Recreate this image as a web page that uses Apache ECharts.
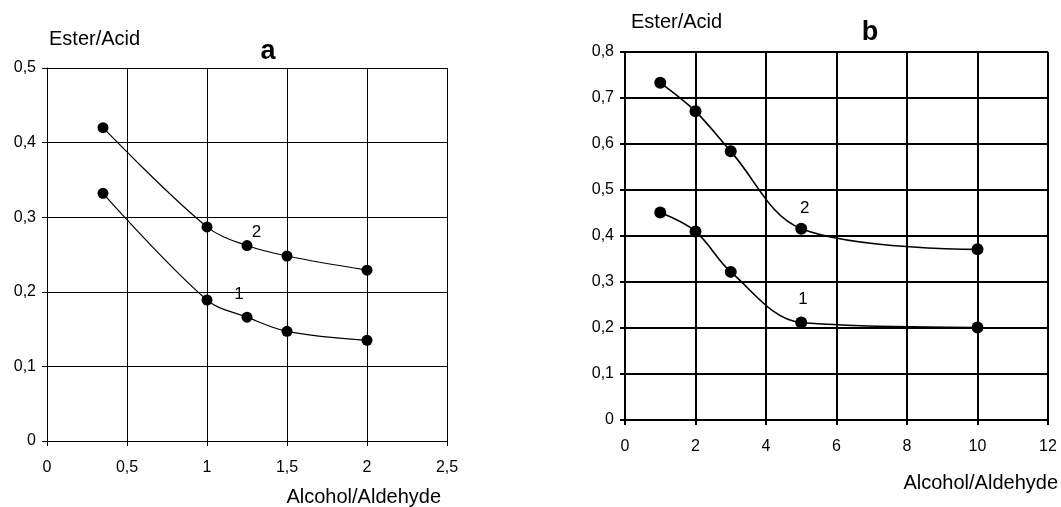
<!DOCTYPE html>
<html>
<head>
<meta charset="utf-8">
<script src="https://cdn.jsdelivr.net/npm/echarts@6/dist/echarts.min.js"></script>
<style>
html,body{margin:0;padding:0;background:#fff;}
#c{width:1061px;height:507px;}
</style>
</head>
<body>
<div id="c"></div>
<script>
// Panel a
const xA = [0.35, 1, 1.25, 1.5, 2];
const a1 = [0.332, 0.189, 0.166, 0.147, 0.135];
const a2 = [0.420, 0.287, 0.262, 0.248, 0.229];
// Panel b
const xB = [1, 2, 3, 5, 10];
const b1 = [0.451, 0.410, 0.322, 0.212, 0.201];
const b2 = [0.733, 0.671, 0.584, 0.416, 0.371];
// curve labels [x, y, text]
const labelsA = [[1.31, 0.28, '2'], [1.2, 0.196, '1']];
const labelsB = [[5.1, 0.46, '2'], [5.05, 0.262, '1']];
const titles = ['a', 'b'];
const yName = 'Ester/Acid';
const xName = 'Alcohol/Aldehyde';

const FONT = '"Liberation Sans", Arial, sans-serif';
const comma = v => String(+Number(v).toFixed(1)).replace('.', ',');
const pairs = (xs, ys) => xs.map((x, i) => [x, ys[i]]);

function xAxis(grid, max, interval, w, gap, pad) {
  return {
    type: 'value', gridIndex: grid, min: 0, max: max, interval: interval,
    axisLine: {show: true, onZero: false, lineStyle: {color: '#000', width: w}},
    axisTick: {show: true, length: 5, lineStyle: {color: '#000', width: w}},
    axisLabel: {color: '#000', fontSize: 16, fontFamily: FONT, margin: 19, formatter: comma},
    splitLine: {show: true, lineStyle: {color: '#000', width: w}},
    name: xName, nameLocation: 'end', nameGap: gap,
    nameTextStyle: {color: '#000', fontSize: 20, fontFamily: FONT, align: 'right', verticalAlign: 'top', padding: [pad, 0, 0, 0]}
  };
}
function yAxis(grid, max, w, gap, padL) {
  return {
    type: 'value', gridIndex: grid, min: 0, max: max, interval: 0.1,
    axisLine: {show: true, onZero: false, lineStyle: {color: '#000', width: w}},
    axisTick: {show: true, length: 5, lineStyle: {color: '#000', width: w}},
    axisLabel: {color: '#000', fontSize: 16, fontFamily: FONT, margin: 11, formatter: comma},
    splitLine: {show: true, lineStyle: {color: '#000', width: w}},
    name: yName, nameLocation: 'end', nameGap: gap,
    nameTextStyle: {color: '#000', fontSize: 20, fontFamily: FONT, align: 'left', verticalAlign: 'middle', padding: [0, 0, 0, padL]}
  };
}
function curve(xi, yi, data, size, w) {
  return {
    type: 'line', xAxisIndex: xi, yAxisIndex: yi, data: data, smooth: 0.35,
    symbol: 'circle', symbolSize: size, showSymbol: true,
    lineStyle: {color: '#000', width: w}, itemStyle: {color: '#000'},
    z: 5, silent: true
  };
}
function lbl(xi, yi, data) {
  return {
    type: 'scatter', xAxisIndex: xi, yAxisIndex: yi, symbolSize: 0,
    data: data, itemStyle: {opacity: 1, color: '#000'},
    label: {show: true, position: 'inside', color: '#000', fontSize: 17, fontFamily: FONT,
      formatter: p => p.value[2]},
    silent: true, z: 6
  };
}

const chart = echarts.init(document.getElementById('c'), null, {renderer: 'canvas'});
chart.setOption({
  backgroundColor: '#fff',
  animation: false,
  title: [
    {text: titles[0], left: 263, top: 33, textAlign: 'center',
      textStyle: {fontSize: 27, fontWeight: 'bold', color: '#000', fontFamily: FONT}},
    {text: titles[1], left: 865, top: 14, textAlign: 'center',
      textStyle: {fontSize: 27, fontWeight: 'bold', color: '#000', fontFamily: FONT}}
  ],
  grid: [
    {left: 47, top: 68, width: 400, height: 374},
    {left: 625, top: 52, width: 425, height: 368}
  ],
  xAxis: [xAxis(0, 2.5, 0.5, 1, -6, 46), xAxis(1, 12, 2, 2, 10, 53)],
  yAxis: [yAxis(0, 0.5, 1, 29, 2), yAxis(1, 0.8, 2, 30, 6)],
  series: [
    curve(0, 0, pairs(xA, a1), 11, 1.2),
    curve(0, 0, pairs(xA, a2), 11, 1.2),
    curve(1, 1, pairs(xB, b1), 12, 1.6),
    curve(1, 1, pairs(xB, b2), 12, 1.6),
    lbl(0, 0, labelsA),
    lbl(1, 1, labelsB)
  ]
});
</script>
</body>
</html>
